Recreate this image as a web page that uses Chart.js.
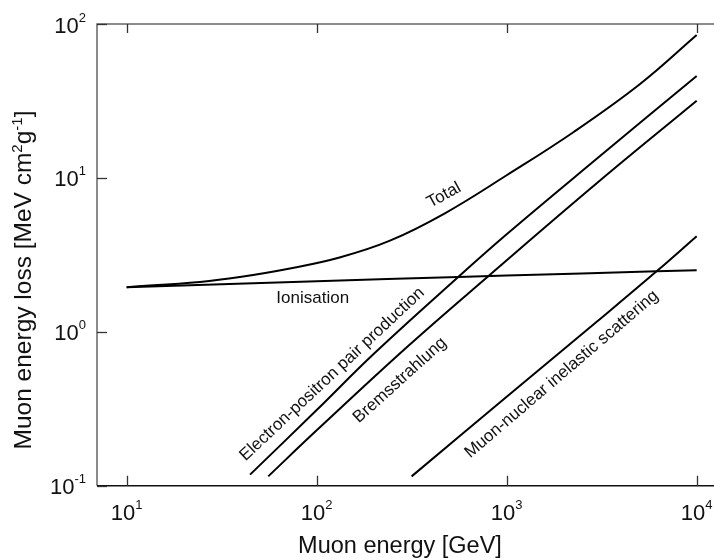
<!DOCTYPE html>
<html>
<head>
<meta charset="utf-8">
<script src="https://cdn.jsdelivr.net/npm/chart.js@4.4.0/dist/chart.umd.min.js"></script>
<style>
  html, body { margin: 0; padding: 0; background: #fff; overflow: hidden; }
  #wrap { width: 714px; height: 560px; position: relative; }
</style>
</head>
<body>
<div id="wrap"><canvas id="lossChart" width="714" height="560"></canvas></div>
<script>
// muon energy [GeV] and loss [MeV cm2/g]
const ionE = [10, 100, 556, 1000, 6150, 10000];
const ionLoss = [1.95, 2.13, 2.27, 2.32, 2.47, 2.51];

const pairE = [44.6, 100, 200, 556, 1000, 3000, 10000];
const pairLoss = [0.118, 0.31, 0.72, 2.27, 4.3, 13.4, 46];

const bremE = [55.6, 100, 300, 817, 3000, 10000];
const bremLoss = [0.115, 0.229, 0.8, 2.35, 9.3, 31.7];

const nuclE = [316, 1000, 3000, 6150, 10000];
const nuclLoss = [0.115, 0.378, 1.17, 2.47, 4.18];

const totalE = [10, 24.3, 39.4, 72.3, 132, 243, 473, 1000, 2244, 5035, 10000];
const totalLoss = [1.95, 2.11, 2.27, 2.58, 3.04, 3.91, 5.89, 10.4, 19.8, 40.7, 84.7];

const xTicks = [10, 100, 1000, 10000];
const yTicks = [0.1, 1, 10, 100];

// in-plot labels, anchored in data units
const curveLabels = ['Total', 'Ionisation', 'Electron-positron pair production', 'Bremsstrahlung', 'Muon-nuclear inelastic scattering'];
const curveLabelE = [468, 95.3, 120.5, 274, 1945];
const curveLabelLoss = [7.72, 1.66, 0.53, 0.484, 0.53];
const curveLabelAngle = [-29, 0, -43, -42, -40.5];

const FONT = '"Liberation Sans", Arial, Helvetica, sans-serif';

const toPoints = (xs, ys) => xs.map((x, i) => ({ x: x, y: ys[i] }));

const lineStyle = {
  borderColor: '#000',
  borderWidth: 2,
  pointRadius: 0,
  fill: false,
  tension: 0.4,
};

// draws 10 with a raised exponent; align: 'center' or 'right'
function drawPower(ctx, exp, x, y, align) {
  const base = '10';
  const sup = String(exp);
  ctx.font = '22px ' + FONT;
  const wBase = ctx.measureText(base).width;
  ctx.font = '13px ' + FONT;
  const wSup = ctx.measureText(sup).width;
  const total = wBase + wSup;
  const left = align === 'right' ? x - total : x - total / 2;
  ctx.textAlign = 'left';
  ctx.textBaseline = 'alphabetic';
  ctx.font = '22px ' + FONT;
  ctx.fillText(base, left, y);
  ctx.font = '13px ' + FONT;
  ctx.fillText(sup, left + wBase, y - 11);
}

const framePlugin = {
  id: 'frame',
  afterDatasetsDraw(chart) {
    const ctx = chart.ctx;
    const area = chart.chartArea;
    const xs = chart.scales.x;
    const ys = chart.scales.y;

    ctx.save();
    // axis lines
    ctx.lineWidth = 1.5;
    ctx.strokeStyle = '#666';
    ctx.beginPath();
    ctx.moveTo(area.left, area.bottom);
    ctx.lineTo(area.left, area.top);
    ctx.lineTo(chart.width, area.top);
    ctx.stroke();
    ctx.strokeStyle = '#111';
    ctx.beginPath();
    ctx.moveTo(area.left, area.bottom);
    ctx.lineTo(chart.width, area.bottom);
    ctx.stroke();

    // inward ticks
    ctx.lineWidth = 1.3;
    ctx.strokeStyle = '#333';
    xTicks.forEach((v) => {
      const px = Math.round(xs.getPixelForValue(v)) + 0.5;
      ctx.beginPath();
      ctx.moveTo(px, area.bottom);
      ctx.lineTo(px, area.bottom - 10);
      ctx.moveTo(px, area.top);
      ctx.lineTo(px, area.top + 9);
      ctx.stroke();
    });
    yTicks.forEach((v) => {
      const py = Math.round(ys.getPixelForValue(v)) + 0.5;
      ctx.beginPath();
      ctx.moveTo(area.left, py);
      ctx.lineTo(area.left + 10, py);
      ctx.stroke();
    });

    // tick labels
    ctx.fillStyle = '#111';
    xTicks.forEach((v) => {
      drawPower(ctx, Math.round(Math.log10(v)), xs.getPixelForValue(v), 520, 'center');
    });
    yTicks.forEach((v) => {
      drawPower(ctx, Math.round(Math.log10(v)), 86, ys.getPixelForValue(v) + 8.5, 'right');
    });

    // x title
    ctx.font = '23.5px ' + FONT;
    ctx.textAlign = 'center';
    ctx.fillText('Muon energy [GeV]', 400, 553);

    // y title with superscripts
    ctx.save();
    ctx.translate(31, 280);
    ctx.rotate(-Math.PI / 2);
    const parts = [
      ['Muon energy loss [MeV cm', 24.5, 0],
      ['2', 15, -9],
      ['g', 24.5, 0],
      ['-1', 15, -9],
      [']', 24.5, 0],
    ];
    let width = 0;
    parts.forEach((p) => {
      ctx.font = p[1] + 'px ' + FONT;
      width += ctx.measureText(p[0]).width;
    });
    let cx = -width / 2;
    ctx.textAlign = 'left';
    parts.forEach((p) => {
      ctx.font = p[1] + 'px ' + FONT;
      ctx.fillText(p[0], cx, p[2]);
      cx += ctx.measureText(p[0]).width;
    });
    ctx.restore();

    // curve labels
    ctx.font = '17px ' + FONT;
    ctx.textAlign = 'center';
    ctx.textBaseline = 'middle';
    curveLabels.forEach((txt, i) => {
      ctx.save();
      ctx.translate(xs.getPixelForValue(curveLabelE[i]), ys.getPixelForValue(curveLabelLoss[i]));
      ctx.rotate((curveLabelAngle[i] * Math.PI) / 180);
      ctx.fillText(txt, 0, 0);
      ctx.restore();
    });
    ctx.restore();
  },
};

new Chart(document.getElementById('lossChart').getContext('2d'), {
  type: 'line',
  data: {
    datasets: [
      { label: 'Total', data: toPoints(totalE, totalLoss), ...lineStyle },
      { label: 'Ionisation', data: toPoints(ionE, ionLoss), ...lineStyle },
      { label: 'Electron-positron pair production', data: toPoints(pairE, pairLoss), ...lineStyle },
      { label: 'Bremsstrahlung', data: toPoints(bremE, bremLoss), ...lineStyle },
      { label: 'Muon-nuclear inelastic scattering', data: toPoints(nuclE, nuclLoss), ...lineStyle },
    ],
  },
  options: {
    responsive: false,
    animation: false,
    layout: { padding: { left: 97, top: 24, right: 0, bottom: 74.3 } },
    scales: {
      x: { type: 'logarithmic', display: false, min: 6.98, max: 12335 },
      y: { type: 'logarithmic', display: false, min: 0.1, max: 100 },
    },
    plugins: {
      legend: { display: false },
      tooltip: { enabled: false },
    },
  },
  plugins: [framePlugin],
});
</script>
</body>
</html>
